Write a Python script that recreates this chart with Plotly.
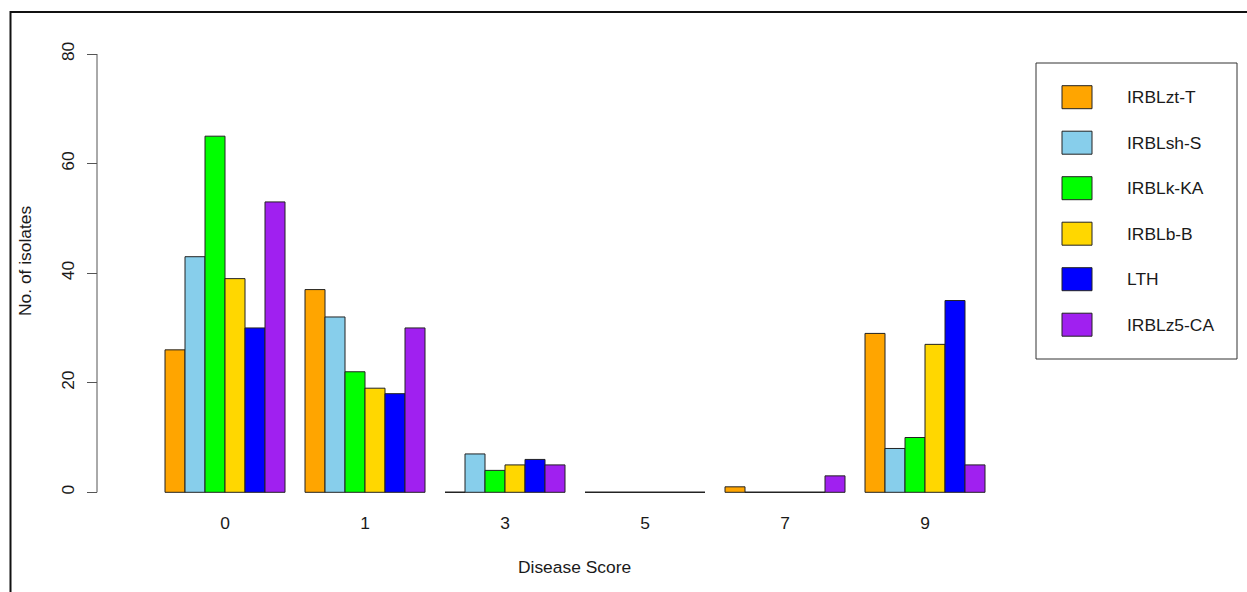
import plotly.graph_objects as go

# Disease score classes and the number of isolates per differential line
scores = ["0", "1", "3", "5", "7", "9"]
series_names = ["IRBLzt-T", "IRBLsh-S", "IRBLk-KA", "IRBLb-B", "LTH", "IRBLz5-CA"]
irblzt_t = [26, 37, 0, 0, 1, 29]
irblsh_s = [43, 32, 7, 0, 0, 8]
irblk_ka = [65, 22, 4, 0, 0, 10]
irblb_b = [39, 19, 5, 0, 0, 27]
lth = [30, 18, 6, 0, 0, 35]
irblz5_ca = [53, 30, 5, 0, 3, 5]
series_values = [irblzt_t, irblsh_s, irblk_ka, irblb_b, lth, irblz5_ca]
colors = ["#FFA500", "#87CEEB", "#00FF00", "#FFD700", "#0000FF", "#A020F0"]
y_ticks = [0, 20, 40, 60, 80]

W, H = 1247, 592
FONT = "Liberation Sans, Arial, sans-serif"
FS = 17.4
TXT = "#1a1a1a"
EDGE = "#222222"

# grouped bar layout: each group holds one unit per series plus one unit of space
n_series = len(series_names)
group_step = n_series + 1

def bar_center(g, j):
    return 1 + group_step * g + j + 0.5

group_centers = [1 + group_step * g + n_series / 2 for g in range(len(scores))]

# pixel geometry of the plotting region
x_px0, x_unit_px = 165.0, 20.0          # left edge of first bar, pixels per bar unit
y_zero_px, y_top_px = 492.3, 54.0        # pixel rows of y = 0 and y = 80
y_unit_px = (y_zero_px - y_top_px) / 80.0
plot_bottom_px = 510.5

x_range = [1 - x_px0 / x_unit_px, 1 + (W - x_px0) / x_unit_px]
y_range = [-(plot_bottom_px - y_zero_px) / y_unit_px, 80 + y_top_px / y_unit_px]

def px(x):
    return x / W

def py(y):
    return 1 - y / H

fig = go.Figure()

for j, (name, vals, col) in enumerate(zip(series_names, series_values, colors)):
    fig.add_trace(go.Bar(
        x=[bar_center(g, j) for g in range(len(scores))],
        y=vals,
        width=1,
        name=name,
        marker=dict(color=col, line=dict(color=EDGE, width=1)),
        showlegend=False,
        cliponaxis=False,
    ))

# zero-height bars still show their border as a flat line on the baseline
zx, zy = [], []
for j, vals in enumerate(series_values):
    for g, v in enumerate(vals):
        if v == 0:
            c = bar_center(g, j)
            zx += [c - 0.5, c + 0.5, None]
            zy += [0, 0, None]
fig.add_trace(go.Scatter(x=zx, y=zy, mode="lines", line=dict(color=EDGE, width=1),
                         showlegend=False, hoverinfo="skip"))

shapes = []
annotations = []

# y axis line from 0 to 80
shapes.append(dict(type="line", xref="paper", yref="y", x0=px(97), x1=px(97),
                   y0=y_ticks[0], y1=y_ticks[-1], line=dict(color="#555555", width=1)))

# outer frame
shapes.append(dict(type="rect", xref="paper", yref="paper", x0=px(10.5), x1=px(W + 20),
                   y0=py(H + 20), y1=py(12), line=dict(color="#111111", width=2)))

# legend box with swatches
shapes.append(dict(type="rect", xref="paper", yref="paper", x0=px(1036), x1=px(1237),
                   y0=py(359), y1=py(63), line=dict(color="#333333", width=1)))
row_top, row_step, sw_h = 85.7, 45.5, 23.0
for k, (name, col) in enumerate(zip(series_names, colors)):
    top = row_top + k * row_step
    shapes.append(dict(type="rect", xref="paper", yref="paper", x0=px(1062), x1=px(1092),
                       y0=py(top + sw_h), y1=py(top), fillcolor=col,
                       line=dict(color=EDGE, width=1)))
    annotations.append(dict(text=name, xref="paper", yref="paper", x=px(1125),
                            y=py(top + sw_h / 2), xanchor="left", yanchor="middle",
                            showarrow=False, font=dict(family=FONT, size=FS, color=TXT)))

# axis titles
annotations.append(dict(text="Disease Score", xref="paper", yref="paper", x=px(574),
                        y=py(567), xanchor="center", yanchor="middle", showarrow=False,
                        font=dict(family=FONT, size=FS, color=TXT)))
annotations.append(dict(text="No. of isolates", xref="paper", yref="paper", x=px(25),
                        y=py(261), xanchor="center", yanchor="middle", textangle=-90,
                        showarrow=False, font=dict(family=FONT, size=FS, color=TXT)))

fig.update_layout(
    width=W, height=H,
    margin=dict(l=0, r=0, t=0, b=0),
    autosize=False,
    paper_bgcolor="white", plot_bgcolor="white",
    barmode="overlay",
    showlegend=False,
    font=dict(family=FONT, size=FS, color=TXT),
    xaxis=dict(domain=[0, 1], range=x_range, tickmode="array", tickvals=group_centers,
               ticktext=scores, showgrid=False, zeroline=False, showline=False,
               ticks="", automargin=False, fixedrange=True,
               tickfont=dict(family=FONT, size=FS, color=TXT)),
    yaxis=dict(domain=[py(plot_bottom_px), 1], range=y_range, anchor="free",
               position=px(97), tickmode="array", tickvals=y_ticks,
               showgrid=False, zeroline=False, showline=False, ticks="outside",
               ticklen=10, tickcolor="#555555", tickwidth=1, tickangle=-90,
               ticklabelstandoff=6, automargin=False, fixedrange=True,
               tickfont=dict(family=FONT, size=FS, color=TXT)),
    shapes=shapes,
    annotations=annotations,
)

fig.write_html("out.html", config={"displayModeBar": False})
